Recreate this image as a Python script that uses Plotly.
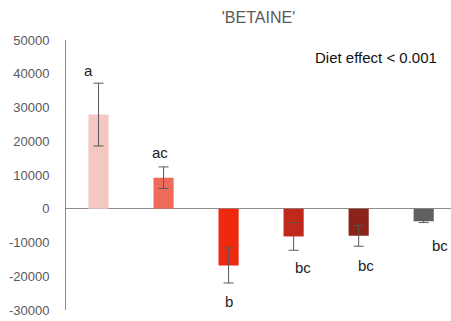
import plotly.graph_objects as go

# Diet groups (unlabelled on the x axis), mean change and its error
groups = [0, 1, 2, 3, 4, 5]
means = [27900, 9200, -16800, -8200, -8000, -3700]
errors = [9300, 3200, 5200, 4100, 3100, 400]
colors = ["#F4C7C1", "#EE6A5A", "#EE2910", "#C0281A", "#8B2318", "#616161"]

# Significance letters with their placement relative to each bar
letters = ["a", "ac", "b", "bc", "bc", "bc"]
letter_dx = [-0.15, -0.05, 0.0, 0.14, 0.12, 0.25]
letter_y = [41100, 16800, -27600, -17300, -16700, -11000]

y_ticks = [-30000, -20000, -10000, 0, 10000, 20000, 30000, 40000, 50000]

fig = go.Figure()
fig.add_trace(go.Bar(
    x=groups,
    y=means,
    width=0.31,
    marker=dict(color=colors, line=dict(width=0)),
    error_y=dict(type="data", array=errors, visible=True,
                 color="#595959", thickness=1, width=5),
    showlegend=False,
))

for g, lab, dx, ly in zip(groups, letters, letter_dx, letter_y):
    fig.add_annotation(x=g + dx, y=ly, text=lab, showarrow=False,
                       font=dict(family="Liberation Sans", size=15, color="#222222"),
                       xanchor="center", yanchor="middle")

fig.add_annotation(x=0.805, y=0.937, xref="paper", yref="paper",
                   text="Diet effect < 0.001", showarrow=False,
                   font=dict(family="Liberation Sans", size=15, color="#111111"),
                   xanchor="center", yanchor="middle")

fig.update_layout(
    width=451, height=321,
    margin=dict(l=66, r=0, t=40, b=11),
    paper_bgcolor="white", plot_bgcolor="white",
    title=dict(text="'BETAINE'", x=0.5, xref="paper", y=1 - 17 / 321,
               yanchor="middle", xanchor="center",
               font=dict(family="Liberation Sans", size=16, color="#595959")),
    xaxis=dict(range=[-0.5, 5.42], showticklabels=False, showgrid=False,
               zeroline=False, showline=False, ticks=""),
    yaxis=dict(range=[-30000, 50000], tickvals=y_ticks,
               ticktext=[str(v) for v in y_ticks],
               showgrid=False, zeroline=True, zerolinecolor="#8C8C8C",
               zerolinewidth=1, showline=True, linecolor="#8C8C8C",
               linewidth=1, ticks="", ticklabelstandoff=13,
               tickfont=dict(family="Liberation Sans", size=13, color="#595959")),
)

fig.write_html("out.html")
